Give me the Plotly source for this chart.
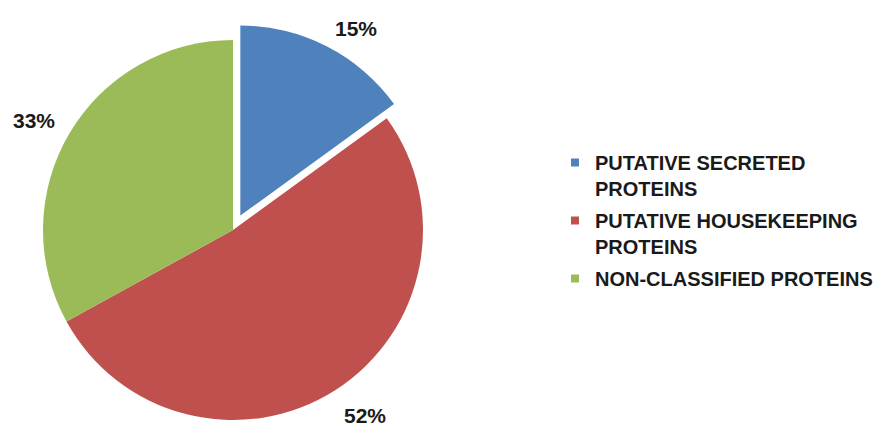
import math
import plotly.graph_objects as go

# Protein classes, their shares (%) and slice colours
categories = ["PUTATIVE SECRETED PROTEINS",
              "PUTATIVE HOUSEKEEPING PROTEINS",
              "NON-CLASSIFIED PROTEINS"]
legend_labels = ["PUTATIVE SECRETED<br>PROTEINS",
                 "PUTATIVE HOUSEKEEPING<br>PROTEINS",
                 "NON-CLASSIFIED PROTEINS"]
shares = [15, 52, 33]
colors = ["#4F81BD", "#C0504D", "#9BBB59"]
pulls = [0.085, 0.0, 0.0]   # exploded fraction of the radius per slice

W, H = 889, 423
CX, CY, R = 233, 230, 190   # pie centre and radius (px)
FONT = "Liberation Sans, Arial, sans-serif"
CLEAR = "rgba(0,0,0,0)"

total = sum(shares)


def unit(i):
    """Screen-space unit vector through the middle of slice i (clockwise from 12 o'clock)."""
    frac = (sum(shares[:i]) + shares[i] / 2) / total
    th = 2 * math.pi * frac
    return math.sin(th), -math.cos(th)


def centre(i):
    ux, uy = unit(i)
    return CX + pulls[i] * R * ux, CY + pulls[i] * R * uy


def domain(cx, cy):
    return dict(x=[(cx - R) / W, (cx + R) / W],
                y=[1 - (cy + R) / H, 1 - (cy - R) / H])


fig = go.Figure()

# Each exploded slice gets its own pie layer with a shifted centre, so every
# slice keeps the full radius; the remaining slices share the centred layer.
layers = [[i] for i, p in enumerate(pulls) if p > 0]
layers.append([i for i, p in enumerate(pulls) if p == 0])
for layer in layers:
    cx, cy = centre(layer[0])
    fig.add_trace(go.Pie(
        values=shares, labels=categories, sort=False,
        direction="clockwise", rotation=0,
        marker=dict(colors=[colors[k] if k in layer else CLEAR
                            for k in range(len(shares))],
                    line=dict(width=0)),
        textinfo="none", hoverinfo="label+percent", showlegend=False,
        domain=domain(cx, cy),
    ))

# percentage labels just outside each slice
for i, v in enumerate(shares):
    ux, uy = unit(i)
    cx, cy = centre(i)
    px, py = cx + (R + 14) * ux, cy + (R + 14) * uy
    fig.add_annotation(
        x=px / W, y=1 - py / H, xref="paper", yref="paper",
        text=f"{v}%", showarrow=False,
        xanchor="left" if ux > 0 else "right",
        yanchor="bottom" if uy < 0 else "top",
        yshift=-8 if uy < 0 else 0,
        font=dict(family=FONT, size=21, color="#1a1a1a", weight="bold"),
    )

# legend entries with small square keys
for k, (lab, c) in enumerate(zip(legend_labels, colors)):
    fig.add_trace(go.Scatter(
        x=[None], y=[None], mode="markers", name=lab, legendgroup=f"g{k}",
        marker=dict(symbol="square", size=8, color=c),
        hoverinfo="skip",
    ))

fig.update_layout(
    width=W, height=H,
    margin=dict(l=0, r=0, t=0, b=0),
    paper_bgcolor="white", plot_bgcolor="white",
    xaxis=dict(visible=False), yaxis=dict(visible=False),
    showlegend=True,
    legend=dict(
        x=555 / W, y=1 - 143 / H, xanchor="left", yanchor="top",
        valign="top", bgcolor=CLEAR, itemclick=False, tracegroupgap=3,
        font=dict(family=FONT, size=20, color="#1a1a1a", weight="bold"),
    ),
)

fig.write_html("out.html")
